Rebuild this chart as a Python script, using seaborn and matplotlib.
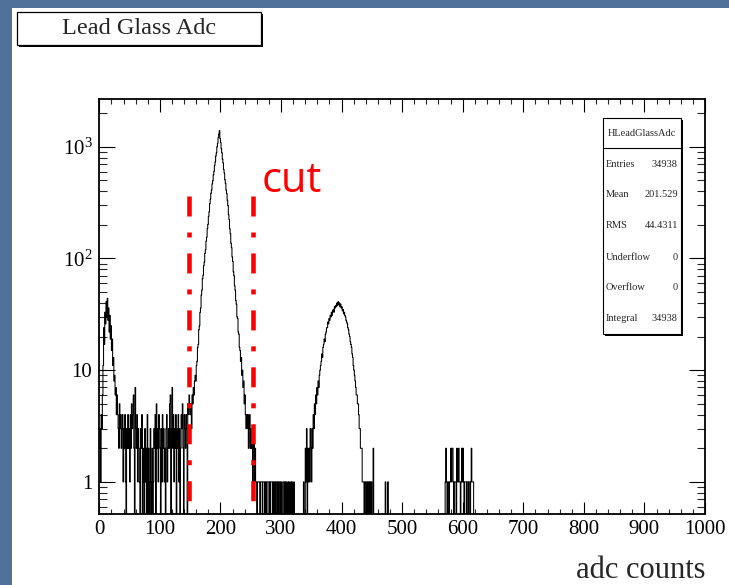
import numpy as np
import pandas as pd
import matplotlib
matplotlib.use("Agg")
import matplotlib.pyplot as plt
import seaborn as sns
from matplotlib.patches import Rectangle
from matplotlib.lines import Line2D
from matplotlib.ticker import FixedLocator, FixedFormatter, NullFormatter

sns.set_theme(style="white")
plt.rcParams['font.family'] = ['Liberation Serif', 'DejaVu Serif']
plt.rcParams['mathtext.fontset'] = 'custom'
plt.rcParams['mathtext.rm'] = 'Liberation Serif'
plt.rcParams['mathtext.it'] = 'Liberation Serif:italic'
plt.rcParams['lines.scale_dashes'] = False

# ---------------- data (1 adc count per bin) ----------------
bin_width = 1
x_range = (0, 1000)

noise_start = 0
noise_counts = [2, 3, 1, 4, 3, 6, 11, 24, 17, 33,
                26, 41, 30, 44, 28, 36, 22, 31, 19, 25,
                15, 19, 11, 13, 8, 9, 6, 7, 4, 6,
                4, 3, 2, 5, 3, 4, 2, 3, 4, 1,
                3, 2, 4, 1, 0, 3, 2, 4, 2, 3,
                1, 4, 2, 5, 3, 4, 6, 2, 0, 7,
                3, 2, 4, 1, 3, 2, 1, 0, 3, 2,
                4, 0, 2, 1, 0, 3, 1, 2, 0, 4,
                0, 2, 1, 0, 3, 1, 0, 2, 0, 1,
                3, 2, 4, 0, 5, 2, 3, 1, 4, 3,
                2, 0, 3, 1, 4, 2, 3, 1, 2, 0,
                3, 4, 1, 2, 3, 2, 5, 6, 0, 3,
                7, 2, 4, 1, 3, 2, 4, 0, 3, 2,
                4, 1, 3, 0, 2, 4, 3, 5, 2, 0,
                4, 3, 2, 4, 3, 0, 5, 4, 6, 5]

peak_start = 150
peak_counts = [4, 5, 3, 6, 5, 7, 6, 8, 9, 8,
               11, 12, 16, 17, 23, 25, 33, 36, 47, 52, 66,
               71, 86, 93, 111, 120, 143, 155, 185, 202, 238, 262, 309, 340,
               383, 410, 466, 497, 561, 603, 681, 732, 826, 883, 998, 1072,
               1208, 1301, 1392,
               1188, 1091, 958, 884, 775, 716, 627, 580, 507, 470, 410, 381, 332,
               298, 247, 222, 184, 167, 137, 125, 103, 94, 76, 70,
               57, 52, 42, 39, 30, 29, 22, 21, 16, 15,
               12, 13, 9, 10, 7, 8,
               5, 6, 4, 3, 4, 3, 4, 2, 3, 4, 2, 3, 2, 3, 1, 2, 3, 1, 2]

tail_start = 258
tail_counts = [1, 1, 0, 1, 1, 1, 1, 0, 1, 1,
               1, 0, 1, 1, 1, 0, 1, 1, 0, 1,
               1, 1, 0, 1, 0, 1, 1, 1, 0, 1,
               0, 1, 1, 0, 1, 1, 0, 1, 0, 1,
               1, 0, 1, 0, 0, 1, 1, 0, 1, 0,
               1, 0, 0, 1, 0, 1, 0, 0, 1, 0,
               1, 0, 0, 1, 0, 0, 0, 0, 0, 0,
               0, 0, 0, 0, 0, 0, 0, 0]

peak2_start = 336
peak2_counts = [0, 1, 0, 0, 2, 1, 3, 0, 2, 1,
                2, 1, 3, 2, 1, 3, 2, 4, 3, 5,
                4, 6, 5, 7, 6, 8, 7, 9, 10, 11,
                12, 14, 13, 16, 17, 19, 18, 21, 22, 24,
                24, 27, 26, 29, 28, 31, 30, 33, 31, 34,
                35, 33, 37, 36, 38, 37, 40, 38, 41, 39,
                40, 37, 39, 36, 37, 34, 35, 32, 33, 31,
                30, 28, 27, 26, 24, 23, 21, 20, 18, 17,
                16, 14, 13, 11, 10, 9, 8, 7, 6, 6,
                5, 5, 4, 3, 3, 2, 2, 2, 1, 1,
                1, 0, 1, 1, 0, 1, 1, 0, 1, 1,
                0, 1, 0, 1, 0, 0, 2, 0, 0, 0,
                0, 0, 0, 0, 0, 0, 0, 0, 0, 0,
                0, 0, 0, 0, 0, 0, 1, 0, 0, 0,
                1, 0, 0, 0]

cluster_start = 566
cluster_counts = [0, 0, 0, 0, 0, 1, 2, 1, 0, 1,
                  1, 0, 1, 1, 2, 1, 2, 2, 1, 0,
                  1, 1, 1, 0, 2, 1, 1, 2, 1, 1,
                  0, 1, 2, 1, 2, 1, 0, 1, 1, 1,
                  0, 1, 1, 0, 1, 1, 0, 1, 2, 1,
                  1, 1]

cut_values = [148, 253]
cut_label = "cut"

title_text = "Lead Glass Adc"
stats_name = "HLeadGlassAdc"
stats_labels = ["Entries", "Mean", "RMS", "Underflow", "Overflow", "Integral"]
stats_values = ["34938", "201.529", "44.4311", "0", "0", "34938"]

x_label = "adc counts"
x_ticks = list(range(0, 1001, 100))
y_ticks = [1, 10, 100, 1000]
y_ticklabels = ["1", "10", r"$\mathregular{10^{2}}$", r"$\mathregular{10^{3}}$"]
y_limits = (0.516, 2660)

# ---------------- build the histogram table ----------------
n_bins = (x_range[1] - x_range[0]) // bin_width
counts = np.zeros(n_bins)
for start, seg in [(noise_start, noise_counts), (peak_start, peak_counts),
                   (tail_start, tail_counts), (peak2_start, peak2_counts),
                   (cluster_start, cluster_counts)]:
    i0 = (start - x_range[0]) // bin_width
    counts[i0:i0 + len(seg)] = seg
centers = x_range[0] + bin_width * (np.arange(n_bins) + 0.5)
df = pd.DataFrame({"adc": centers, "n": counts})

# ---------------- figure ----------------
W, H = 729, 585
fig = plt.figure(figsize=(W / 100, H / 100), dpi=100)
fig.patch.set_facecolor('#4f719a')


def fx(px):
    return px / W


def fy(py):
    return 1 - py / H


fig.patches.append(Rectangle((fx(12), 0), 1 - fx(12), fy(8), transform=fig.transFigure,
                             facecolor='white', edgecolor='none', zorder=-5))

ax_l, ax_r, ax_t, ax_b = 99.3, 705, 99.3, 514
ax = fig.add_axes([fx(ax_l), fy(ax_b), fx(ax_r - ax_l), (ax_b - ax_t) / H])
ax.set_facecolor('white')

sns.histplot(data=df, x="adc", weights="n", bins=n_bins, binrange=x_range,
             element="step", fill=False, color="black", linewidth=0.75, ax=ax,
             legend=False)
ax.set_yscale('log')
ax.set_xlim(*x_range)
ax.set_ylim(*y_limits)

# cut lines
for cv in cut_values:
    ax.plot([cv, cv], [360, y_limits[0]], color='#ff0000', linewidth=3.3,
            linestyle=(0, (14.4, 11.5, 3.6, 11.5)), solid_capstyle='butt',
            dash_capstyle='butt', zorder=5)
ax.text(fx(262), fy(192), cut_label, transform=fig.transFigure, color='#ff0000',
        fontsize=30, family=['Open Sans', 'DejaVu Sans'], ha='left', va='baseline')

# axes styling
for s in ax.spines.values():
    s.set_color('black')
    s.set_linewidth(1.3)
ax.xaxis.set_major_locator(FixedLocator(x_ticks))
ax.xaxis.set_major_formatter(FixedFormatter([str(t) for t in x_ticks]))
ax.xaxis.set_minor_locator(FixedLocator(list(range(0, 1001, 20))))
ax.xaxis.set_minor_formatter(NullFormatter())
ax.yaxis.set_major_locator(FixedLocator(y_ticks))
ax.yaxis.set_major_formatter(FixedFormatter(y_ticklabels))
minor_y = [m * 10.0 ** e for e in range(-1, 4) for m in range(2, 10)]
ax.yaxis.set_minor_locator(FixedLocator([v for v in minor_y if y_limits[0] < v < y_limits[1]]))
ax.yaxis.set_minor_formatter(NullFormatter())
ax.tick_params(axis='x', which='major', direction='in', length=9, width=0.8,
               top=True, bottom=True, labelsize=15, pad=4, colors='black')
ax.tick_params(axis='x', which='minor', direction='in', length=3.8, width=0.8,
               top=True, bottom=True)
ax.tick_params(axis='y', which='major', direction='in', length=11.5, width=0.8,
               left=True, right=True, labelsize=15, pad=5, colors='black')
ax.tick_params(axis='y', which='minor', direction='in', length=6, width=0.8,
               left=True, right=True)
ax.set_ylabel("")
ax.set_xlabel("")
fig.text(fx(706), fy(578), x_label, fontsize=22, ha='right', va='baseline')

# title box with shadow
tx0, ty0, tx1, ty1 = 17, 12, 261, 45
fig.patches.append(Rectangle((fx(tx0 + 2), fy(ty1 + 2)), fx(tx1 - tx0), (ty1 - ty0) / H,
                             transform=fig.transFigure, facecolor='black', edgecolor='none'))
fig.patches.append(Rectangle((fx(tx0), fy(ty1)), fx(tx1 - tx0), (ty1 - ty0) / H,
                             transform=fig.transFigure, facecolor='white', edgecolor='black',
                             linewidth=0.9))
fig.text(fx((tx0 + tx1) / 2), fy(29), title_text, fontsize=17.5, ha='center', va='center')

# stats box with shadow
sx0, sy0, sx1, sy1 = 602.7, 117.7, 680.7, 334
fig.patches.append(Rectangle((fx(sx0 + 2), fy(sy1 + 2)), fx(sx1 - sx0), (sy1 - sy0) / H,
                             transform=fig.transFigure, facecolor='black', edgecolor='none',
                             zorder=6))
fig.patches.append(Rectangle((fx(sx0), fy(sy1)), fx(sx1 - sx0), (sy1 - sy0) / H,
                             transform=fig.transFigure, facecolor='white', edgecolor='black',
                             linewidth=0.8, zorder=7))
fig.add_artist(Line2D([fx(sx0), fx(sx1)], [fy(147.7), fy(147.7)], transform=fig.transFigure,
                      color='black', linewidth=0.8, zorder=8))
fig.text(fx((sx0 + sx1) / 2), fy(133), stats_name, fontsize=7.5, ha='center', va='center',
         zorder=9)
row_y = [164.3, 195, 225.7, 257.3, 287.7, 318.3]
for yy, lab, val in zip(row_y, stats_labels, stats_values):
    fig.text(fx(606), fy(yy), lab, fontsize=7.5, ha='left', va='center', zorder=9)
    fig.text(fx(677.7), fy(yy), val, fontsize=7.5, ha='right', va='center', zorder=9)

fig.savefig("out.png", dpi=100)
